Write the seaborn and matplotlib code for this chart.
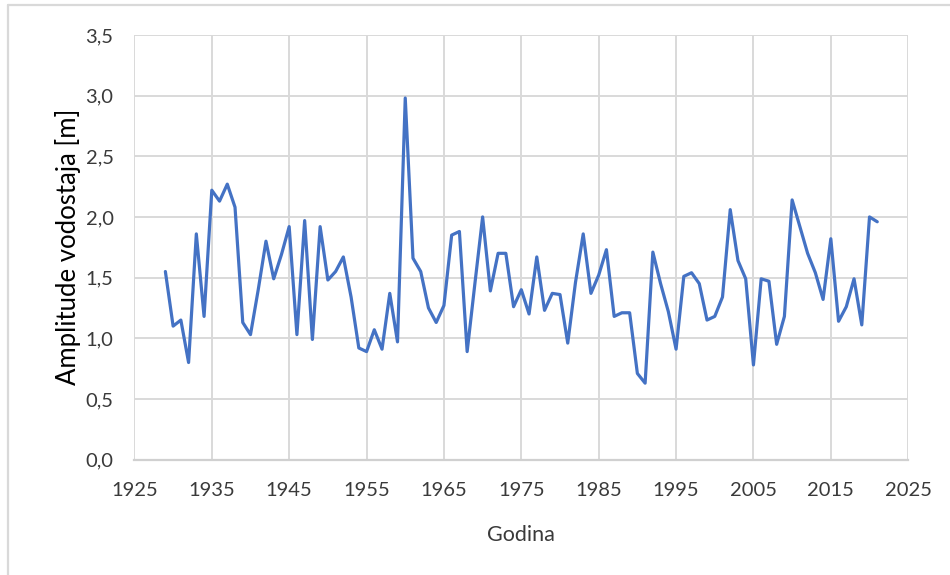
import numpy as np
import pandas as pd
import matplotlib
matplotlib.use('Agg')
import matplotlib.pyplot as plt
import matplotlib.ticker as mticker
from matplotlib.lines import Line2D
import seaborn as sns

years = list(range(1929, 2022))
amplitude = [
    1.55, 1.10, 1.15, 0.80, 1.86, 1.18, 2.22, 2.13, 2.27, 2.08,  # 1929-1938
    1.13, 1.03, 1.40, 1.80, 1.49, 1.69, 1.92, 1.03, 1.97, 0.99,  # 1939-1948
    1.92, 1.48, 1.55, 1.67, 1.34, 0.92, 0.89, 1.07, 0.91, 1.37,  # 1949-1958
    0.97, 2.98, 1.66, 1.55, 1.25, 1.13, 1.27, 1.85, 1.88, 0.89,  # 1959-1968
    1.45, 2.00, 1.39, 1.70, 1.70, 1.26, 1.40, 1.20, 1.67, 1.23,  # 1969-1978
    1.37, 1.36, 0.96, 1.46, 1.86, 1.37, 1.52, 1.73, 1.18, 1.21,  # 1979-1988
    1.21, 0.71, 0.63, 1.71, 1.45, 1.22, 0.91, 1.51, 1.54, 1.45,  # 1989-1998
    1.15, 1.18, 1.34, 2.06, 1.64, 1.49, 0.78, 1.49, 1.47, 0.95,  # 1999-2008
    1.18, 2.14, 1.92, 1.70, 1.54, 1.32, 1.82, 1.14, 1.26, 1.49,  # 2009-2018
    1.11, 2.00, 1.96,                                            # 2019-2021
]
x_ticks = list(range(1925, 2026, 10))
y_ticks = [0.0, 0.5, 1.0, 1.5, 2.0, 2.5, 3.0, 3.5]

df = pd.DataFrame({'Godina': years, 'Amplituda': amplitude})

sns.set_theme(style='white')
plt.rcParams['font.family'] = ['Lato', 'DejaVu Sans']

fig = plt.figure(figsize=(9.5, 5.75), dpi=100)
ax = fig.add_axes([0.1415, 0.2007, 0.8145, 0.7386])

sns.lineplot(data=df, x='Godina', y='Amplituda', ax=ax, color='#4472C4',
             linewidth=2.3, solid_joinstyle='round', solid_capstyle='round')

ax.set_xlim(1925, 2025)
ax.set_ylim(0, 3.5)
ax.set_xticks(x_ticks)
ax.set_yticks(y_ticks)
ax.yaxis.set_major_formatter(mticker.FuncFormatter(lambda v, _: f'{v:.1f}'.replace('.', ',')))
ax.grid(True, color='#d9d9d9', linewidth=1.4)
ax.set_axisbelow(True)
for side in ['top', 'right', 'left']:
    ax.spines[side].set_visible(False)
ax.spines['bottom'].set_color('#d0d0d0')
ax.spines['bottom'].set_linewidth(1.6)

ax.tick_params(axis='both', length=0, labelsize=14.5, colors='#3a3a3a')
ax.tick_params(axis='y', pad=15)
ax.tick_params(axis='x', pad=16)

ax.set_xlabel('Godina', fontsize=15.5, color='#3a3a3a', labelpad=19)
ax.set_ylabel('Amplitude vodostaja [m]', fontsize=18.5, color='black', labelpad=3)

# chart-area border (only top and left edges are visible in the crop)
fig.add_artist(Line2D([8 / 950, 1.0], [1 - 5 / 575, 1 - 5 / 575], transform=fig.transFigure,
                      color='#d9d9d9', linewidth=1.6))
fig.add_artist(Line2D([8 / 950, 8 / 950], [0.0, 1 - 5 / 575], transform=fig.transFigure,
                      color='#d9d9d9', linewidth=1.6))

fig.savefig('out.png', dpi=100)
